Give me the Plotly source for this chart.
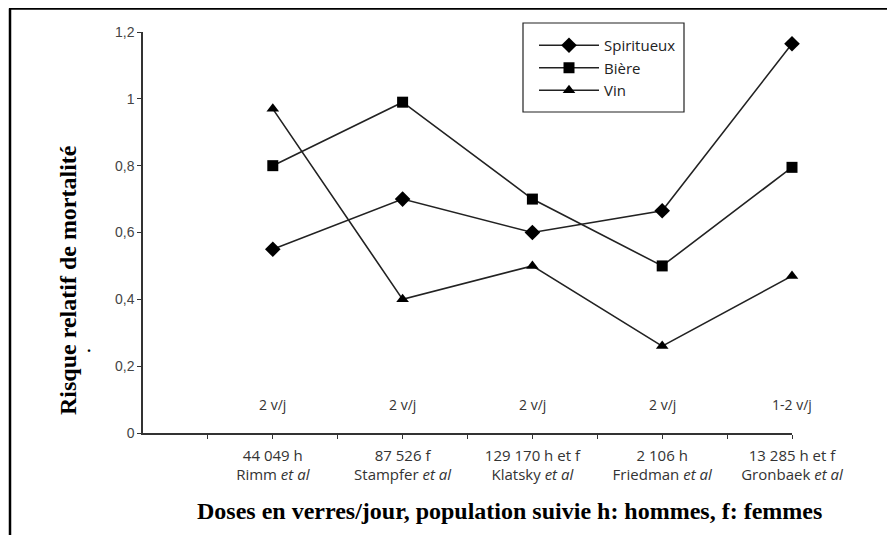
import plotly.graph_objects as go

# ── Données ──────────────────────────────────────────────────────────────────
positions = [1, 2, 3, 4, 5]
etudes = [
    "44 049 h<br>Rimm <i>et al</i>",
    "87 526 f<br>Stampfer <i>et al</i>",
    "129 170 h et f<br>Klatsky <i>et al</i>",
    "2 106 h<br>Friedman <i>et al</i>",
    "13 285 h et f<br>Gronbaek <i>et al</i>",
]
doses = ["2 v/j", "2 v/j", "2 v/j", "2 v/j", "1-2 v/j"]

spiritueux = [0.55, 0.70, 0.60, 0.665, 1.165]
biere = [0.80, 0.99, 0.70, 0.50, 0.795]
vin = [0.97, 0.40, 0.50, 0.26, 0.47]

y_ticks = [0, 0.2, 0.4, 0.6, 0.8, 1.0, 1.2]
y_labels = ["0", "0,2", "0,4", "0,6", "0,8", "1", "1,2"]

W, H = 895, 535
OFF = 8  # marge par défaut du <body> de la page
sans = "Open Sans, Lato, sans-serif"
serif = "Liberation Serif, Times New Roman, serif"


def px(x):
    """position horizontale (pixels écran) -> fraction paper"""
    return (x - OFF) / W


def py(y):
    """position verticale (pixels écran) -> fraction paper"""
    return 1 - (y - OFF) / H


fig = go.Figure()

# ── Séries ───────────────────────────────────────────────────────────────────
for nom, vals, symb, taille in [
    ("Spiritueux", spiritueux, "diamond", 12),
    ("Bière", biere, "square", 11),
    ("Vin", vin, "triangle-up", 11),
]:
    fig.add_trace(go.Scatter(
        x=positions, y=vals, name=nom, mode="lines+markers",
        line=dict(color="#222", width=1.6),
        marker=dict(symbol=symb, size=taille, color="black"),
        cliponaxis=False,
    ))

# ── Doses au-dessus de l'axe ─────────────────────────────────────────────────
for p, d in zip(positions, doses):
    fig.add_annotation(x=p, y=0.085, text=d, showarrow=False,
                       xanchor="center", yanchor="middle",
                       font=dict(family=sans, size=14, color="#333"))

# tick labels x (demi-positions sans texte)
x_vals, x_text = [], []
for p, e in zip(positions, etudes):
    x_vals += [p - 0.5, p]
    x_text += ["", e]

# ── Layout ───────────────────────────────────────────────────────────────────
fig.update_layout(
    width=W, height=H,
    margin=dict(l=0, r=0, t=0, b=0, autoexpand=False),
    paper_bgcolor="white", plot_bgcolor="white",
    showlegend=True,
    legend=dict(
        x=px(534), y=py(29), xanchor="left", yanchor="top",
        borderwidth=0, bgcolor="rgba(0,0,0,0)",
        font=dict(family=sans, size=15, color="#222"),
        itemwidth=60, tracegroupgap=0,
    ),
    xaxis=dict(
        domain=[px(143), px(792)], range=[0, 5],
        showgrid=False, zeroline=False,
        showline=True, linecolor="#333", linewidth=1.5,
        tickvals=x_vals, ticktext=x_text,
        ticks="outside", ticklen=4, tickcolor="#333",
        tickfont=dict(family=sans, size=15, color="#333"),
        ticklabelstandoff=4,
        anchor="y",
    ),
    yaxis=dict(
        domain=[py(433), py(32)], range=[0, 1.2],
        showgrid=False, zeroline=False,
        showline=True, linecolor="#333", linewidth=1.5,
        tickvals=y_ticks, ticktext=y_labels,
        ticks="outside", ticklen=4, tickcolor="#333",
        tickfont=dict(family="Liberation Sans, Arial, sans-serif", size=14, color="#444"),
        anchor="x",
    ),
)

# titres des axes
fig.add_annotation(
    xref="paper", yref="paper", x=px(68), y=py(280),
    xanchor="center", yanchor="middle",
    text="<b>Risque relatif de mortalité</b>", textangle=-90, showarrow=False,
    font=dict(family=serif, size=24, color="black"),
)
fig.add_annotation(
    xref="paper", yref="paper", x=px(510), y=py(511),
    xanchor="center", yanchor="middle",
    text="<b>Doses en verres/jour, population suivie h: hommes, f: femmes</b>",
    showarrow=False, font=dict(family=serif, size=24, color="black"),
)
fig.add_annotation(
    xref="paper", yref="paper", x=px(89), y=py(346),
    xanchor="center", yanchor="middle",
    text="<b>.</b>", showarrow=False, font=dict(family=serif, size=16, color="black"),
)

# cadre de la légende
fig.add_shape(type="rect", xref="paper", yref="paper", layer="below",
              x0=px(523), x1=px(684), y0=py(112), y1=py(23),
              line=dict(color="#222", width=1.2), fillcolor="white")

# cadre (haut + gauche)
fig.add_shape(type="line", xref="paper", yref="paper",
              x0=px(9), x1=1, y0=py(8.5), y1=py(8.5),
              line=dict(color="black", width=2.5))
fig.add_shape(type="line", xref="paper", yref="paper",
              x0=px(10), x1=px(10), y0=py(8.5), y1=0,
              line=dict(color="black", width=2.5))

fig.write_html("out.html")
